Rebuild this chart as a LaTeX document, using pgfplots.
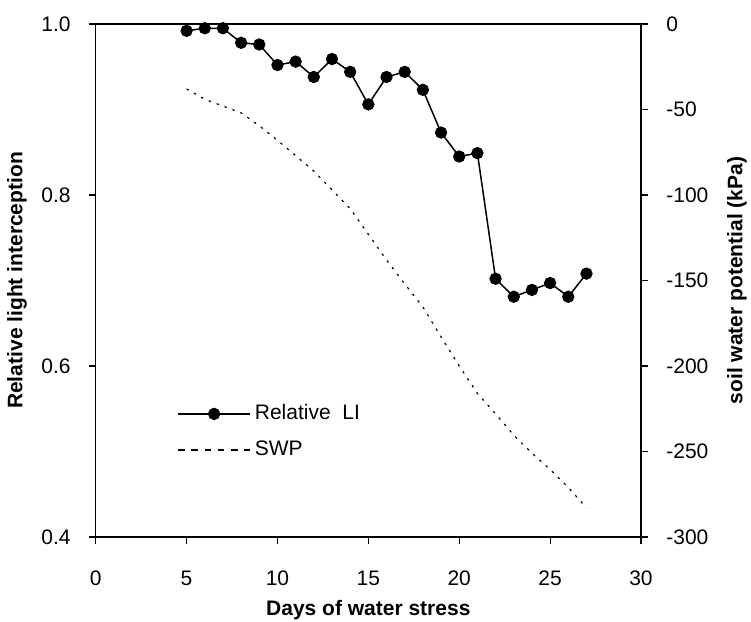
\documentclass[border=0pt]{standalone}
\usepackage{fontspec}
\setmainfont{Liberation Sans}
\usepackage{pgfplots}
\pgfplotsset{compat=1.18}
\pgfplotsset{
  lileg/.style={legend image code/.code={\draw[mark repeat=2,mark phase=2,##1] plot coordinates {(0pt,0pt) (18pt,0pt) (36pt,0pt)};}},
  swpleg/.style={legend image code/.code={\draw[##1] (0pt,0pt) -- (36pt,0pt);}},
  base/.style={scale only axis, width=272.65pt, height=256.5pt, xmin=0, xmax=30,
    /pgf/number format/assume math mode=true,
    tick style={line width=0.6pt, black}, major tick length=3.5pt, tick align=outside,
    axis line style={line width=0.6pt},
    every tick label/.append style={font=\fontsize{10.5}{12.6}\selectfont},
    label style={font=\bfseries\fontsize{10.5}{12.6}\selectfont}}
}
\begin{document}
\fontsize{10.5}{12.6}\selectfont
\begin{tikzpicture}
\begin{axis}[base, name=ax,
  ymin=0.4, ymax=1.0, ytick={0.4,0.6,0.8,1.0}, xtick={0,5,...,30},
  xtick pos=bottom, ytick pos=left,
  yticklabel style={/pgf/number format/fixed, /pgf/number format/fixed zerofill, /pgf/number format/precision=1, anchor=east, inner sep=0pt, xshift=-8.85pt},
  xticklabel style={anchor=center, inner sep=0pt, yshift=-17pt},
  xlabel={Days of water stress},
  xlabel style={at={(axis description cs:0.5,-0.1423)}, anchor=center},
  ylabel={Relative light interception},
  ylabel style={at={(axis description cs:-0.1443,0.5)}, anchor=center},
  legend cell align=left,
  legend style={draw=none, fill=none, at={(0.149,0.205)}, anchor=west, inner sep=0pt, row sep=5pt,
    font=\fontsize{10.5}{12.6}\selectfont},
]
\addplot[black, line width=0.75pt, mark=*, mark size=2.7pt, lileg]
coordinates {
(5,0.992) (6,0.995) (7,0.995) (8,0.978) (9,0.976) (10,0.952) (11,0.956) (12,0.938)
(13,0.959) (14,0.944) (15,0.906) (16,0.938) (17,0.944) (18,0.923) (19,0.873) (20,0.845)
(21,0.849) (22,0.702) (23,0.681) (24,0.689) (25,0.697) (26,0.681) (27,0.708)};
\addlegendentry{Relative\ \ LI}
\addlegendimage{black, line width=0.6pt, dash pattern=on 3.3pt off 3.3pt, swpleg}
\addlegendentry{SWP}
\end{axis}
\begin{axis}[base, axis x line=none, axis y line*=right,
  ymin=-300, ymax=0, ytick={-300,-250,...,0},
  yticklabel style={anchor=west, inner sep=0pt, xshift=9pt},
  ylabel={soil water potential (kPa)},
  ylabel style={at={(axis description cs:1.176,0.5)}, anchor=center},
]
\addplot[black, line width=0.6pt, dash pattern=on 1.2pt off 3pt] coordinates {
(5,-38) (6,-44) (7,-48) (8,-52) (9,-59.5) (10,-68) (11,-77) (12,-86) (13,-97) (14,-108)
(15,-123) (16,-138) (17,-152) (18,-165.5) (19,-183) (20,-200) (21,-216) (22,-228)
(23,-240.5) (24,-251) (25,-260.5) (26,-271) (27,-283)};
\end{axis}
\pgfresetboundingbox
\path ([shift={(-47.85pt,-42.5pt)}]ax.south west) rectangle ([shift={(55pt,12pt)}]ax.north east);
\end{tikzpicture}
\end{document}
